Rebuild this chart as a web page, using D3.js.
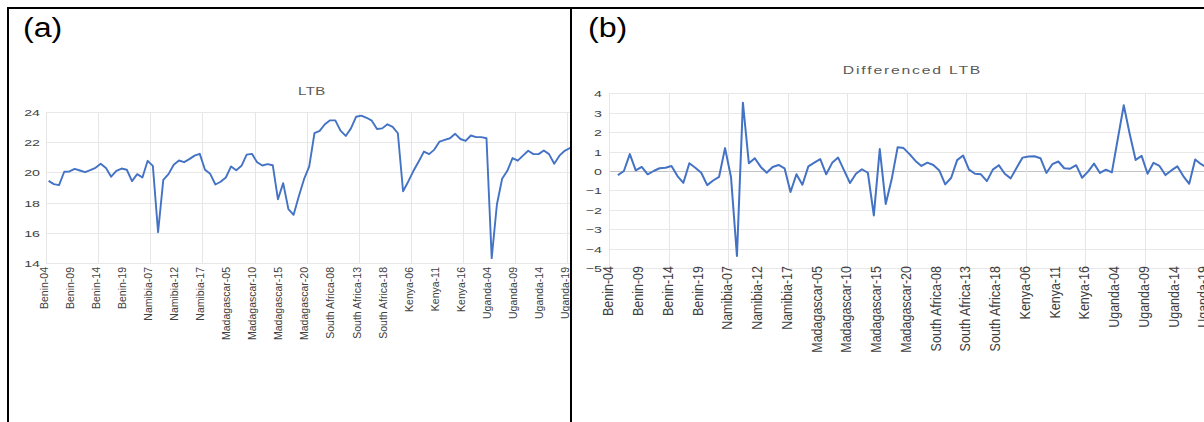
<!DOCTYPE html>
<html>
<head>
<meta charset="utf-8">
<script src="https://cdn.jsdelivr.net/npm/d3@7"></script>
<style>
  body { margin: 0; background: #fff; }
  text { font-family: "Liberation Sans", Arial, sans-serif; }
</style>
</head>
<body>
<div id="chart"></div>
<script>
// categories: six countries, 2004-2020
const countries = ["Benin", "Namibia", "Madagascar", "South Africa", "Kenya", "Uganda"];
const years = ["04", "05", "06", "07", "08", "09", "10", "11", "12", "13", "14", "15", "16", "17", "18", "19", "20"];
const categories = countries.flatMap(c => years.map(y => `${c}-${y}`));

// panel (a) LTB
const ltbValues = [
  19.44, 19.22, 19.16, 20.04, 20.06, 20.23, 20.12, 20.01, 20.14, 20.30, 20.56, 20.28, 19.71, 20.10, 20.25, 20.17, 19.42,
  19.88, 19.66, 20.76, 20.43, 16.05, 19.50, 19.88, 20.50, 20.78, 20.67, 20.87, 21.10, 21.22, 20.17, 19.90, 19.20,
  19.38, 19.66, 20.39, 20.14, 20.43, 21.17, 21.22, 20.67, 20.45, 20.54, 20.47, 18.22, 19.29, 17.58, 17.20, 18.42, 19.55, 20.40,
  22.58, 22.73, 23.17, 23.43, 23.43, 22.75, 22.40, 22.90, 23.67, 23.74, 23.60, 23.41, 22.86, 22.90, 23.17, 23.00, 22.58,
  18.75, 19.40, 20.10, 20.72, 21.37, 21.20, 21.50, 22.03, 22.14, 22.25, 22.54, 22.20, 22.07, 22.43, 22.32, 22.32, 22.25,
  14.34, 17.88, 19.58, 20.10, 20.94, 20.77, 21.10, 21.42, 21.20, 21.20, 21.44, 21.20, 20.57, 21.10, 21.42, 21.60, 21.75
];

// panel (b) differenced LTB (null = empty cell)
const diffValues = [
  null, -0.21, 0.00, 0.87, 0.03, 0.21, -0.17, 0.00, 0.14, 0.17, 0.26, -0.26, -0.61, 0.40, 0.17, -0.09, -0.73,
  -0.49, -0.30, 1.18, -0.31, -4.38, 3.52, 0.40, 0.66, 0.21, -0.09, 0.21, 0.31, 0.14, -1.08, -0.17, -0.71, 0.24,
  0.43, 0.61, -0.17, 0.42, 0.69, 0.03, -0.62, -0.14, 0.09, -0.09, -2.29, 1.13, -1.70, -0.43, 1.22, 1.18, 0.87,
  0.52, 0.26, 0.43, 0.31, 0.03, -0.69, -0.35, 0.56, 0.80, 0.07, -0.14, -0.17, -0.52, 0.07, 0.30, -0.14, -0.38,
  0.17, 0.69, 0.75, 0.76, 0.66, -0.10, 0.35, 0.49, 0.14, 0.12, 0.30, -0.35, -0.03, 0.38, -0.10, 0.07, -0.07,
  null, 3.39, 1.91, 0.57, 0.78, -0.14, 0.42, 0.26, -0.21, 0.03, 0.24, -0.26, -0.66, 0.59, 0.35, 0.18, 0.15
];

const ltbTicks = [14, 16, 18, 20, 22, 24];
const diffTicks = [-5, -4, -3, -2, -1, 0, 1, 2, 3, 4];

const svg = d3.select("#chart")
  .append("svg")
  .attr("width", 1204)
  .attr("height", 422)
  .style("background", "#fff");

const defs = svg.append("defs");
defs.append("clipPath").attr("id", "clipA")
  .append("rect").attr("x", 0).attr("y", 0).attr("width", 570).attr("height", 422);
defs.append("clipPath").attr("id", "clipB")
  .append("rect").attr("x", 572).attr("y", 0).attr("width", 632).attr("height", 422);

function drawPanel(p) {
  const g = svg.append("g").attr("clip-path", `url(#${p.clip})`);

  const x = d3.scaleBand().domain(categories).range([p.x0, p.x1]);
  const y = d3.scaleLinear().domain(d3.extent(p.ticks)).range([p.yBottom, p.yTop]);

  // horizontal gridlines
  g.append("g").selectAll("line")
    .data(p.ticks)
    .join("line")
    .attr("x1", p.x0).attr("x2", p.x1)
    .attr("y1", d => Math.round(y(d)) + 0.5).attr("y2", d => Math.round(y(d)) + 0.5)
    .attr("stroke", d => (p.zeroLine && d === 0) ? "#c4c4c4" : "#e8e8e8")
    .attr("stroke-width", 1);

  // vertical gridlines every 10 categories
  g.append("g").selectAll("line")
    .data(categories.filter((d, i) => i % 10 === 0))
    .join("line")
    .attr("x1", d => Math.round(x(d)) + 0.5).attr("x2", d => Math.round(x(d)) + 0.5)
    .attr("y1", y(p.ticks[p.ticks.length - 1])).attr("y2", y(p.ticks[0]))
    .attr("stroke", "#e6e6e6");

  // y axis labels
  const yAxis = g.append("g")
    .attr("transform", `translate(${p.yLabelX},0)`)
    .call(d3.axisLeft(y).tickValues(p.ticks).tickSize(0).tickPadding(0).tickFormat(d3.format("d")));
  yAxis.select(".domain").remove();
  yAxis.selectAll("text")
    .attr("x", 0)
    .attr("dy", "0.36em")
    .attr("transform", `scale(${p.ySx},1)`)
    .style("font-family", "'Liberation Sans', Arial, sans-serif")
    .style("font-size", p.yFont + "px")
    .attr("fill", "#404040");

  // x axis labels, every 5th category, rotated
  const xAxis = g.append("g")
    .attr("transform", `translate(0,${p.xLabelY})`)
    .call(d3.axisBottom(x).tickValues(categories.filter((d, i) => i % 5 === 0)).tickSize(0));
  xAxis.select(".domain").remove();
  xAxis.selectAll("text")
    .attr("x", 0).attr("y", 0)
    .attr("dy", "0.35em")
    .attr("text-anchor", "end")
    .attr("transform", `translate(${p.xLabelOffset},0) scale(${p.xSx},1) rotate(-90)`)
    .style("font-family", "'Liberation Sans', Arial, sans-serif")
    .style("font-size", p.xFont + "px")
    .attr("fill", p.xColor);

  // the series line
  const points = categories.map((c, i) => [c, p.values[i]]).filter(d => d[1] != null);
  const line = d3.line()
    .x(d => x(d[0]) + x.bandwidth() / 2)
    .y(d => y(d[1]));
  g.append("path")
    .datum(points)
    .attr("fill", "none")
    .attr("stroke", "#4472c4")
    .attr("stroke-width", p.lineWidth)
    .attr("stroke-linejoin", "round")
    .attr("d", line);

  // chart title
  g.append("text")
    .attr("transform", `translate(${(p.x0 + p.x1) / 2},${p.titleY}) scale(${p.titleSx},1)`)
    .attr("text-anchor", "middle")
    .style("font-size", p.titleFont + "px")
    .style("letter-spacing", p.titleSpacing + "px")
    .attr("fill", "#595959")
    .text(p.title);

  // panel letter
  g.append("text")
    .attr("transform", `translate(${p.letterX},37) scale(1.15,1)`)
    .style("font-size", "28px")
    .attr("fill", "#000")
    .text(p.letter);
}

drawPanel({
  clip: "clipA", letter: "(a)", letterX: 23,
  values: ltbValues, ticks: ltbTicks,
  x0: 46, x1: 577.7, yTop: 111.7, yBottom: 263.3,
  yLabelX: 40, yFont: 9.5, ySx: 1.5,
  xLabelY: 267, xLabelOffset: -4.5, xFont: 10.5, xSx: 1, xColor: "#404040",
  lineWidth: 1.9,
  title: "LTB", titleY: 95, titleFont: 10, titleSx: 1.5, titleSpacing: 0.3
});

drawPanel({
  clip: "clipB", letter: "(b)", letterX: 588,
  values: diffValues, ticks: diffTicks, zeroLine: true,
  x0: 609, x1: 1216, yTop: 93.4, yBottom: 268,
  yLabelX: 602, yFont: 9.5, ySx: 1.5,
  xLabelY: 266, xLabelOffset: -3.5, xFont: 12.5, xSx: 1.1, xColor: "#404040",
  lineWidth: 2,
  title: "Differenced LTB", titleY: 74, titleFont: 10.5, titleSx: 1.5, titleSpacing: 1.2
});

// black frame lines around the two panels
const frame = svg.append("g").attr("stroke", "#000").attr("stroke-width", 2);
frame.append("line").attr("x1", 7).attr("x2", 1204).attr("y1", 8).attr("y2", 8);
frame.append("line").attr("x1", 8).attr("x2", 8).attr("y1", 7).attr("y2", 422);
frame.append("line").attr("x1", 571).attr("x2", 571).attr("y1", 7).attr("y2", 422);
</script>
</body>
</html>
